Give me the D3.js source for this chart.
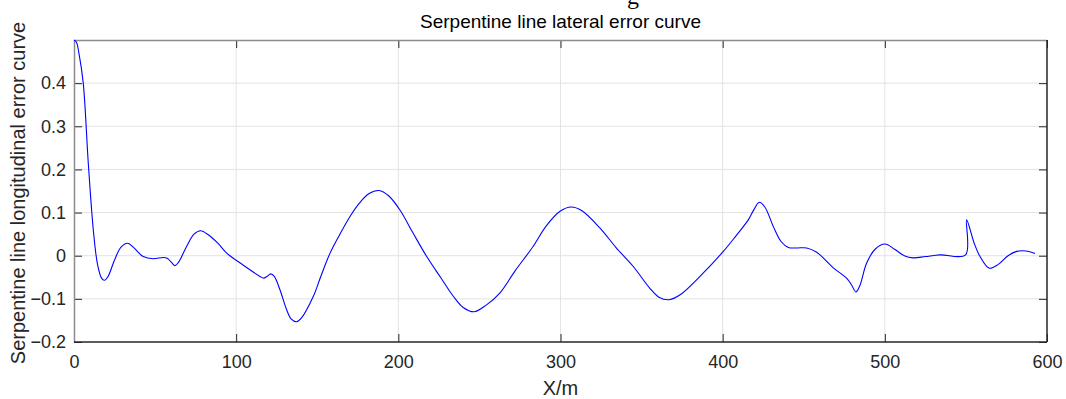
<!DOCTYPE html>
<html>
<head>
<meta charset="utf-8">
<script src="https://cdn.jsdelivr.net/npm/d3@7"></script>
<style>
	body { margin: 0; background: #fff; }
	svg { display: block; font-family: "Liberation Sans", Arial, sans-serif; }
</style>
</head>
<body>
<svg id="svg" width="1066" height="399"></svg>
<script>
// lateral error samples (x in m, error)
const xs = [0, 1.5, 3, 5.7, 8.8, 11.9, 14.5, 17, 18.7, 21, 25, 29, 33.1, 37, 42.7, 48.9, 55, 57.5, 60, 62.3, 64.5, 69.5, 74, 78.1, 83, 89, 94.2, 104, 114.7, 117, 119, 121.3, 123.5, 127, 131, 134, 137.3, 140.5, 147.6, 152, 157.9, 164, 170.2, 176, 182, 188.1, 194, 201, 209, 217.5, 226, 233.9, 240, 246.7, 254, 262.7, 272, 283.2, 291, 299.7, 306.5, 313, 324.4, 334, 344.9, 355, 361, 367.1, 374, 386, 400.4, 408, 415.8, 419, 422.6, 426, 431.2, 436, 440.5, 446, 451.8, 458, 468.2, 476.4, 479.5, 482.2, 484.5, 488.8, 494, 500.1, 506, 512, 517.5, 525, 534, 549.8, 550.4, 555, 558.7, 564.4, 570, 576, 581.3, 587, 592.6]
const errs = [0.5, 0.495, 0.47, 0.40, 0.215, 0.06, -0.02, -0.052, -0.057, -0.048, -0.01, 0.02, 0.029, 0.018, -0.002, -0.007, -0.004, -0.006, -0.015, -0.023, -0.015, 0.022, 0.05, 0.058, 0.048, 0.028, 0.006, -0.021, -0.048, -0.052, -0.048, -0.042, -0.048, -0.079, -0.124, -0.147, -0.153, -0.143, -0.094, -0.05, 0.006, 0.05, 0.091, 0.122, 0.144, 0.151, 0.139, 0.106, 0.053, -0.002, -0.05, -0.094, -0.12, -0.130, -0.115, -0.086, -0.035, 0.022, 0.068, 0.103, 0.113, 0.105, 0.064, 0.02, -0.025, -0.075, -0.097, -0.102, -0.09, -0.048, 0.010, 0.045, 0.083, 0.105, 0.124, 0.113, 0.068, 0.033, 0.019, 0.018, 0.018, 0.008, -0.028, -0.052, -0.068, -0.084, -0.07, -0.017, 0.015, 0.027, 0.015, 0.0, -0.005, -0.002, 0.002, 0.002, 0.083, 0.03, -0.002, -0.029, -0.02, 0.0, 0.010, 0.011, 0.005]

const xTicks = [0, 100, 200, 300, 400, 500, 600]
const yTicks = [-0.2, -0.1, 0, 0.1, 0.2, 0.3, 0.4]

const title = 'Serpentine line lateral error curve'
const xLabel = 'X/m'
const yLabel = 'Serpentine line longitudinal error curve'

const $svg = d3.select('#svg')
const margin = { left: 74, right: 19, top: 40, bottom: 57 }
const width = 1066 - margin.left - margin.right
const height = 399 - margin.top - margin.bottom
const textColor = '#262626'

const scaleX = d3.scaleLinear().domain([0, 600]).range([0, width])
const scaleY = d3.scaleLinear().domain([-0.2, 0.5]).range([height, 0])

// cut-off heading above the chart
$svg.append('text')
	.attr('x', 633).attr('y', 4)
	.attr('text-anchor', 'middle')
	.style('font-family', '"Liberation Serif", serif')
	.style('font-size', '24px')
	.attr('fill', '#000')
	.text('g')

const $g = $svg.append('g').attr('transform', `translate(${margin.left},${margin.top})`)

// grid
$g.append('g')
	.selectAll('line').data(xTicks.slice(1, -1)).join('line')
	.attr('x1', d => scaleX(d)).attr('x2', d => scaleX(d))
	.attr('y1', 0).attr('y2', height)
	.attr('stroke', '#e3e3e3')
$g.append('g')
	.selectAll('line').data(yTicks.slice(1)).join('line')
	.attr('y1', d => scaleY(d)).attr('y2', d => scaleY(d))
	.attr('x1', 0).attr('x2', width)
	.attr('stroke', '#e3e3e3')

const styleAxis = ($a, color) => {
	$a.select('.domain').remove()
	$a.selectAll('line').attr('stroke', color)
	$a.selectAll('text').attr('fill', textColor).style('font-size', '18px').style('font-family', '"Liberation Sans", Arial, sans-serif')
}

// bottom + top axes
const $xb = $g.append('g').attr('transform', `translate(0,${height})`)
	.call(d3.axisBottom(scaleX).tickValues(xTicks).tickSize(-8).tickPadding(13).tickFormat(d3.format('d')))
styleAxis($xb, '#262626')
const $xt = $g.append('g')
	.call(d3.axisTop(scaleX).tickValues(xTicks).tickSize(-8).tickFormat(''))
styleAxis($xt, '#262626')

// left + right axes
const $yl = $g.append('g')
	.call(d3.axisLeft(scaleY).tickValues(yTicks).tickSize(-8).tickPadding(8).tickFormat(d => d === 0 ? '0' : d3.format('.1f')(d)))
styleAxis($yl, '#262626')
const $yr = $g.append('g').attr('transform', `translate(${width},0)`)
	.call(d3.axisRight(scaleY).tickValues(yTicks).tickSize(-8).tickFormat(''))
styleAxis($yr, '#262626')

// box
$g.append('line').attr('x1', 0).attr('x2', width).attr('y1', 0.5).attr('y2', 0.5).attr('stroke', '#8c8c8c').attr('stroke-width', 1.5)
$g.append('line').attr('x1', 0.5).attr('x2', 0.5).attr('y1', 0).attr('y2', height).attr('stroke', '#8c8c8c').attr('stroke-width', 1.5)
$g.append('line').attr('x1', 0).attr('x2', width).attr('y1', height).attr('y2', height).attr('stroke', '#262626').attr('stroke-width', 1.5)
$g.append('line').attr('x1', width).attr('x2', width).attr('y1', 0).attr('y2', height).attr('stroke', '#262626').attr('stroke-width', 1.5)

// curve
const data = xs.map((x, i) => ({ x, y: errs[i] }))
$g.append('path')
	.datum(data)
	.attr('fill', 'none')
	.attr('stroke', '#0000ff')
	.attr('stroke-width', 1.1)
	.attr('d', d3.line().x(d => scaleX(d.x)).y(d => scaleY(d.y)).curve(d3.curveCatmullRom.alpha(0.5)))

// labels
$svg.append('text')
	.attr('x', margin.left + width / 2).attr('y', 28)
	.attr('text-anchor', 'middle').attr('fill', '#000')
	.style('font-size', '19px')
	.text(title)
$svg.append('text')
	.attr('x', margin.left + width / 2).attr('y', 395)
	.attr('text-anchor', 'middle').attr('fill', textColor)
	.style('font-size', '20px')
	.text(xLabel)
$svg.append('text')
	.attr('transform', `translate(25,${margin.top + height / 2 + 2}) rotate(-90)`)
	.attr('text-anchor', 'middle').attr('fill', textColor)
	.style('font-size', '20px')
	.text(yLabel)
</script>
</body>
</html>
